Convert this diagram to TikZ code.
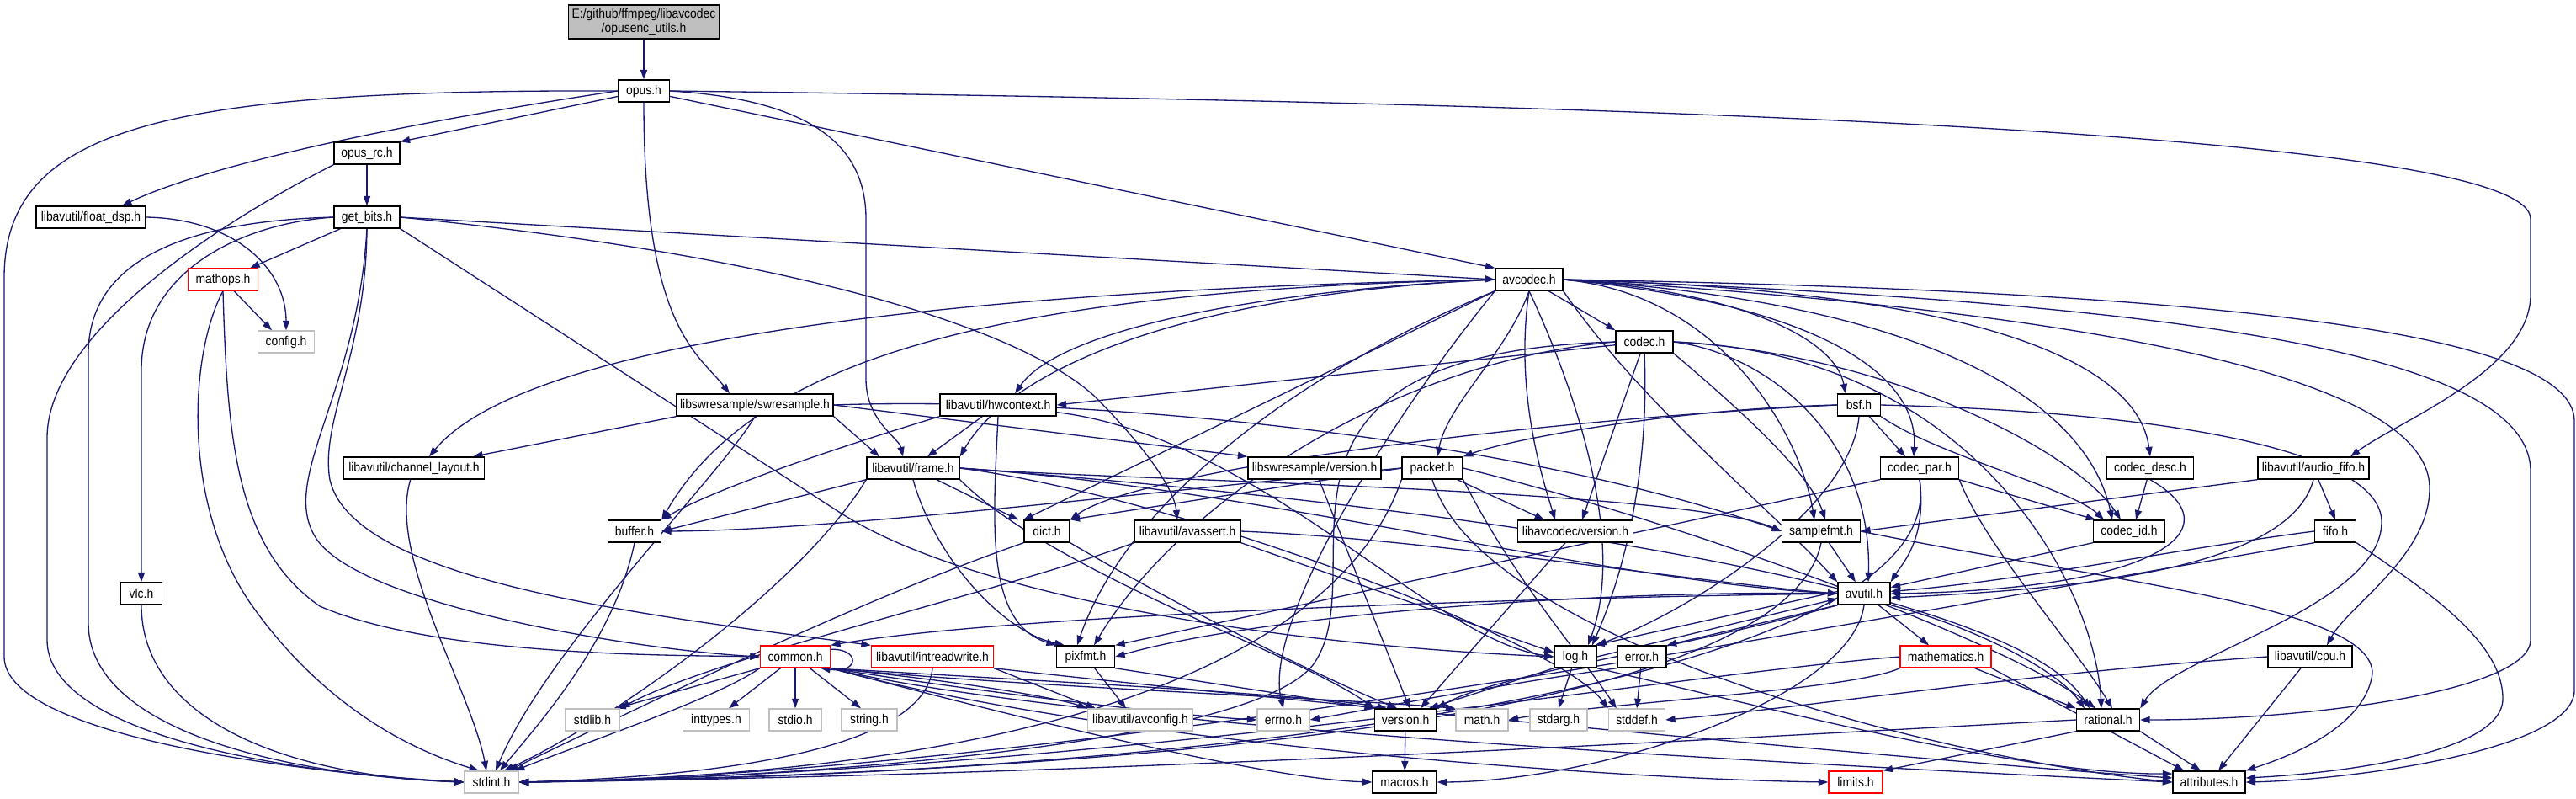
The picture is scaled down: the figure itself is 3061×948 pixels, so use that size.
\documentclass[tikz,border=0pt]{standalone}
\usepackage{fontspec}
\setmainfont{Liberation Sans}[FakeStretch=0.9]
\usetikzlibrary{arrows.meta,backgrounds}
\definecolor{edgeblue}{RGB}{25,25,112}
\definecolor{sysgray}{RGB}{191,191,191}
\tikzset{
  >={Triangle[length=6.5pt,width=4.6pt]},
  hdr/.style={draw=black,line width=0.8pt,fill=white,minimum height=0.52cm,
    inner sep=1pt,font=\fontsize{8.8}{10}\selectfont,minimum width=#1},
  hdrred/.style={hdr=#1,draw=red},
  hdrsys/.style={hdr=#1,draw=sysgray},
  dep/.style={->,draw=edgeblue,line width=0.75pt},
}
\begin{document}
\begin{tikzpicture}[x=0.02cm,y=-0.02cm]
  \useasboundingbox (0,0) rectangle (3061,948);
  % headers, one row per rank
  \node[hdr=3.58cm,fill=sysgray,minimum height=0.8cm,align=center] (root) at (765,26)
    {E:/github/ffmpeg/libavcodec\\/opusenc\_utils.h};
  \node[hdr=1.22cm] (opus) at (765,108) {opus.h};
  \node[hdr=1.56cm] (opusrc) at (436,182) {opus\_rc.h};
  \node[hdr=2.6cm] (floatdsp) at (108,258) {libavutil/float\_dsp.h};
  \node[hdr=1.56cm] (getbits) at (436,258) {get\_bits.h};
  \node[hdrred=1.66cm] (mathops) at (265,332) {mathops.h};
  \node[hdr=1.6cm] (avcodec) at (1817,332) {avcodec.h};
  \node[hdrsys=1.34cm] (config) at (340,406) {config.h};
  \node[hdr=1.36cm] (codec) at (1954,406) {codec.h};
  \node[hdr=3.72cm] (swr) at (897,481) {libswresample/swresample.h};
  \node[hdr=2.76cm] (hwctx) at (1186,481) {libavutil/hwcontext.h};
  \node[hdr=1.02cm] (bsf) at (2209,481) {bsf.h};
  \node[hdr=3.34cm] (chlayout) at (492,556) {libavutil/channel\_layout.h};
  \node[hdr=2.2cm] (frame) at (1085,556) {libavutil/frame.h};
  \node[hdr=3.16cm] (swrver) at (1562,556) {libswresample/version.h};
  \node[hdr=1.44cm] (packet) at (1702,556) {packet.h};
  \node[hdr=1.86cm] (codecpar) at (2281,556) {codec\_par.h};
  \node[hdr=2.06cm] (codecdesc) at (2555,556) {codec\_desc.h};
  \node[hdr=2.64cm] (audiofifo) at (2749,556) {libavutil/audio\_fifo.h};
  \node[hdr=1.26cm] (buffer) at (754,631) {buffer.h};
  \node[hdr=1.08cm] (dict) at (1244,631) {dict.h};
  \node[hdr=2.52cm] (avassert) at (1411,631) {libavutil/avassert.h};
  \node[hdr=2.74cm] (lavcver) at (1872,631) {libavcodec/version.h};
  \node[hdr=1.86cm] (samplefmt) at (2164,631) {samplefmt.h};
  \node[hdr=1.7cm] (codecid) at (2530,631) {codec\_id.h};
  \node[hdr=0.98cm] (fifo) at (2775,631) {fifo.h};
  \node[hdr=0.98cm] (vlc) at (168,705) {vlc.h};
  \node[hdr=1.24cm] (avutil) at (2215,705) {avutil.h};
  \node[hdrred=1.66cm] (common) at (945,780) {common.h};
  \node[hdrred=2.9cm] (intrw) at (1108,780) {libavutil/intreadwrite.h};
  \node[hdr=1.38cm] (pixfmt) at (1290,780) {pixfmt.h};
  \node[hdr=1.0cm] (log) at (1872,780) {log.h};
  \node[hdr=1.16cm] (error) at (1951,780) {error.h};
  \node[hdrred=2.16cm] (mathem) at (2312,780) {mathematics.h};
  \node[hdr=2.0cm] (cpu) at (2745,780) {libavutil/cpu.h};
  \node[hdrsys=1.3cm] (stdlib) at (704,855) {stdlib.h};
  \node[hdrsys=1.58cm] (inttypes) at (851,855) {inttypes.h};
  \node[hdrsys=1.24cm] (stdio) at (945,855) {stdio.h};
  \node[hdrsys=1.32cm] (string) at (1033,855) {string.h};
  \node[hdrsys=2.5cm] (avconfig) at (1355,855) {libavutil/avconfig.h};
  \node[hdrsys=1.24cm] (errno) at (1525,855) {errno.h};
  \node[hdr=1.46cm] (version) at (1670,855) {version.h};
  \node[hdrsys=1.24cm] (math) at (1761,855) {math.h};
  \node[hdrsys=1.36cm] (stdarg) at (1852,855) {stdarg.h};
  \node[hdrsys=1.34cm] (stddef) at (1945,855) {stddef.h};
  \node[hdr=1.5cm] (rational) at (2505,855) {rational.h};
  \node[hdrsys=1.28cm] (stdint) at (584,929) {stdint.h};
  \node[hdr=1.52cm] (macros) at (1669,929) {macros.h};
  \node[hdrred=1.28cm] (limits) at (2205,929) {limits.h};
  \node[hdr=1.72cm] (attributes) at (2625,929) {attributes.h};

  \begin{pgfonlayer}{background}
  \fill[white] (0,0) rectangle (3061,948);
  % opus.h
  \draw[dep] (root) -- (opus);
  \draw[dep] (opus.west) .. controls (200,106) and (5,150) .. (5,330) -- (5,780)
    .. controls (5,870) and (330,916) .. (stdint.west);
  \draw[dep] (opus) -- (opusrc.north east);
  \draw[dep] (opus.west) .. controls (520,140) and (260,190) .. ([xshift=0.74cm]floatdsp.north);
  \draw[dep] (opus) .. controls (765,390) and (830,420) .. ([xshift=-0.6cm]swr.north);
  \draw[dep] (opus.east) .. controls (960,118) and (1029,170) .. (1029,260) -- (1029,450)
    .. controls (1029,500) and (1068,520) .. ([xshift=-0.24cm]frame.north);
  \draw[dep] (opus) -- (avcodec.north west);
  \draw[dep] (opus.east) .. controls (2200,125) and (3007,170) .. (3007,260) -- (3007,350)
    .. controls (3007,440) and (2850,500) .. ([xshift=0.88cm]audiofifo.north);
  % opus_rc.h, float_dsp.h
  \draw[dep] (opusrc) -- (getbits);
  \draw[dep] (opusrc.south west) .. controls (250,270) and (56,400) .. (56,520) -- (56,760)
    .. controls (56,870) and (330,918) .. (stdint.west);
  \draw[dep] (floatdsp.east) .. controls (280,260) and (340,320) .. (config.north);
  % get_bits.h
  \draw[dep] (getbits) -- ([xshift=-0.2cm]mathops.north east);
  \draw[dep] (getbits.west) .. controls (240,262) and (105,300) .. (105,420) -- (105,740)
    .. controls (105,865) and (330,920) .. (stdint.west);
  \draw[dep] (getbits.west) .. controls (290,265) and (168,320) .. (168,440) -- (vlc.north);
  \draw[dep] (getbits.south) .. controls (425,470) and (330,570) .. (376,640)
    .. controls (430,720) and (760,772) .. (common.west);
  \draw[dep] (getbits.south) .. controls (435,420) and (380,500) .. (392,570)
    .. controls (420,690) and (760,730) .. (intrw.north west);
  \draw[dep] (getbits.south east) -- (1000,610) .. controls (1150,705) and (1500,765) .. (log.west);
  \draw[dep] (getbits.east) .. controls (900,300) and (1200,380) .. (1300,470)
    .. controls (1360,530) and (1395,580) .. ([xshift=-0.24cm]avassert.north);
  \draw[dep] (getbits.east) -- (avcodec.west);
  % mathops.h, vlc.h
  \draw[dep] (mathops) -- ([xshift=-0.34cm]config.north);
  \draw[dep] (mathops.south) .. controls (225,420) and (215,600) .. (300,720)
    .. controls (400,860) and (520,900) .. ([xshift=-0.3cm]stdint.north);
  \draw[dep] (mathops.south) .. controls (270,520) and (280,650) .. (380,720)
    .. controls (520,780) and (800,778) .. (common.west);
  \draw[dep] (vlc) .. controls (168,850) and (330,921) .. (stdint.west);
  % avcodec.h
  \draw[dep] (avcodec) -- (codec.north west);
  \draw[dep] (avcodec.south) .. controls (1790,420) and (1720,480) .. ([xshift=0.12cm]packet.north);
  \draw[dep] (avcodec.south) .. controls (1800,460) and (1830,560) .. ([xshift=-0.48cm]lavcver.north);
  \draw[dep] (avcodec.east) .. controls (2060,345) and (2180,400) .. ([xshift=-0.32cm]bsf.north);
  \draw[dep] (avcodec.east) .. controls (2150,360) and (2280,440) .. ([xshift=-0.14cm]codecpar.north);
  \draw[dep] (avcodec.east) .. controls (2350,345) and (2540,430) .. (codecdesc.north);
  \draw[dep] (avcodec.east) .. controls (2300,360) and (2480,480) .. ([xshift=-0.4cm]codecid.north);
  \draw[dep] (avcodec.east) .. controls (2050,350) and (2140,520) .. ([xshift=-0.16cm]samplefmt.north);
  \draw[dep] (avcodec.south east) .. controls (1950,480) and (2100,600) .. (avutil.north west);
  \draw[dep] (avcodec.east) .. controls (2600,345) and (3059,390) .. (3059,500) -- (3059,820)
    .. controls (3059,890) and (2800,926) .. (attributes.east);
  \draw[dep] (avcodec.east) .. controls (2600,360) and (3007,420) .. (3007,560) -- (3007,760)
    .. controls (3007,820) and (2750,855) .. (rational.east);
  \draw[dep] (avcodec.east) .. controls (2500,370) and (2887,450) .. (2887,580)
    .. controls (2887,660) and (2790,720) .. ([xshift=0.4cm]cpu.north);
  \draw[dep] (avcodec.south) .. controls (1880,480) and (1930,650) .. ([xshift=0.3cm]log.north);
  \draw[dep] (avcodec.south west) -- (dict.north west);
  \draw[dep] (avcodec.south west) .. controls (1500,460) and (1330,620) .. ([xshift=-0.2cm]pixfmt.north);
  \draw[dep] (avcodec.south west) .. controls (1650,500) and (1500,740) .. (errno.north);
  \draw[dep] (avcodec.west) .. controls (1500,345) and (1260,390) .. ([xshift=0.4cm]hwctx.north);
  \draw[dep] (avcodec.west) .. controls (1400,350) and (1200,440) .. (frame.north east);
  \draw[dep] (avcodec.west) .. controls (1200,345) and (900,420) .. (buffer.north east);
  \draw[dep] (avcodec.west) .. controls (1100,345) and (620,410) .. ([xshift=0.36cm]chlayout.north);
  % codec.h
  \draw[dep] (codec) -- (hwctx.east);
  \draw[dep] (codec) -- ([xshift=0.16cm]lavcver.north);
  \draw[dep] (codec.south) .. controls (1960,560) and (1930,680) .. ([xshift=0.4cm]log.north);
  \draw[dep] (codec.east) .. controls (2100,420) and (2225,520) .. ([xshift=0.1cm]avutil.north);
  \draw[dep] (codec.south east) .. controls (2060,480) and (2150,560) .. ([xshift=0.1cm]samplefmt.north);
  \draw[dep] (codec.east) .. controls (2250,420) and (2470,540) .. ([xshift=-0.2cm]codecid.north);
  \draw[dep] (codec.east) .. controls (2350,420) and (2490,700) .. ([xshift=-0.16cm]rational.north);
  \draw[dep] (codec.west) .. controls (1650,430) and (1400,600) .. ([xshift=0.2cm]pixfmt.north);
  \draw[dep] (codec.west) .. controls (1450,420) and (1640,680) .. (1560,790)
    .. controls (1480,890) and (900,926) .. (stdint.east);
  % swresample.h, hwcontext.h, bsf.h
  \draw[dep] (swr.south west) -- ([xshift=-0.28cm]chlayout.north east);
  \draw[dep] (swr.south) .. controls (860,560) and (650,770) .. ([xshift=0.1cm]stdint.north);
  \draw[dep] (swr.south east) -- ([xshift=-0.8cm]frame.north);
  \draw[dep] (swr.east) -- (swrver.north west);
  \draw[dep] (swr.east) .. controls (1300,470) and (1800,520) .. (samplefmt.west);
  \draw[dep] (hwctx) -- ([xshift=0.34cm]frame.north);
  \draw[dep] (hwctx.south west) .. controls (1000,530) and (850,580) .. (buffer.north east);
  \draw[dep] (hwctx.south) .. controls (1180,620) and (1170,740) .. (pixfmt.north west);
  \draw[dep] (hwctx) .. controls (1500,520) and (1700,760) .. (log.west);
  \draw[dep] (bsf) -- ([xshift=-0.34cm]codecpar.north);
  \draw[dep] (bsf.west) .. controls (2000,485) and (1800,520) .. (packet.north east);
  \draw[dep] (bsf.west) .. controls (1800,500) and (1350,560) .. (dict.north east);
  \draw[dep] (bsf.south east) .. controls (2300,540) and (2460,580) .. ([xshift=-0.6cm]codecid.north);
  \draw[dep] (bsf.east) .. controls (2600,490) and (2830,540) .. (2830,620)
    .. controls (2830,720) and (2580,780) .. (rational.north east);
  \draw[dep] (bsf.south) .. controls (2200,600) and (2020,720) .. (log.north east);
  % rank of frame.h and packet.h
  \draw[dep] (chlayout) .. controls (460,660) and (560,820) .. ([xshift=-0.12cm]stdint.north);
  \draw[dep] (frame) -- ([xshift=-0.68cm]dict.north);
  \draw[dep] (frame.south west) -- (buffer.east);
  \draw[dep] (frame.south west) .. controls (950,700) and (720,860) .. ([xshift=0.3cm]stdint.north);
  \draw[dep] (frame.south) .. controls (1110,660) and (1190,750) .. ([xshift=0.2cm]pixfmt.north west);
  \draw[dep] (frame.south east) .. controls (1250,680) and (1550,780) .. (version.north west);
  \draw[dep] (frame.east) .. controls (1500,580) and (1900,690) .. (avutil.west);
  \draw[dep] (frame.east) .. controls (1300,570) and (2000,580) .. (samplefmt.west);
  \draw[dep] (frame.east) .. controls (1600,590) and (2380,680) .. ([xshift=-0.44cm]rational.north);
  \draw[dep] (frame.east) .. controls (1400,590) and (1850,760) .. (stddef.north west);
  \draw[dep] (swrver) -- ([xshift=0.1cm]version.north);
  \draw[dep] (packet) -- ([xshift=-0.74cm]lavcver.north);
  \draw[dep] (packet.west) -- (dict.north east);
  \draw[dep] (packet.west) .. controls (1400,580) and (1000,630) .. (buffer.east);
  \draw[dep] (packet.south east) .. controls (1800,690) and (1880,780) .. ([xshift=0.2cm]stddef.north west);
  \draw[dep] (packet.south) .. controls (1760,760) and (2300,900) .. (attributes.west);
  \draw[dep] (packet.east) .. controls (2000,620) and (2380,760) .. ([xshift=-0.3cm]rational.north);
  \draw[dep] (packet.south west) .. controls (1600,760) and (1300,918) .. (stdint.east);
  \draw[dep] (codecpar.south west) -- (pixfmt.north east);
  \draw[dep] (codecpar.south east) -- ([xshift=-0.8cm]codecid.north);
  \draw[dep] (codecpar.south) .. controls (2290,640) and (2260,670) .. (avutil.north east);
  \draw[dep] (codecpar.south east) .. controls (2360,650) and (2460,760) .. ([xshift=0.1cm]rational.north);
  \draw[dep] (codecpar.south) .. controls (2320,800) and (1500,920) .. (stdint.east);
  \draw[dep] (codecdesc) -- ([xshift=0.16cm]codecid.north);
  \draw[dep] (codecdesc.south) .. controls (2660,630) and (2560,700) .. (avutil.east);
  \draw[dep] (audiofifo) -- (fifo.north);
  \draw[dep] (audiofifo.south west) -- (samplefmt.east);
  \draw[dep] (audiofifo.south) .. controls (2720,680) and (2450,700) .. ([yshift=-0.1cm]avutil.east);
  % rank of buffer.h and samplefmt.h
  \draw[dep] (buffer.south) .. controls (730,760) and (640,860) .. ([xshift=0.2cm]stdint.north);
  \draw[dep] (dict.south west) .. controls (1000,720) and (720,860) .. ([xshift=0.4cm]stdint.north);
  \draw[dep] (dict.south east) .. controls (1400,720) and (1560,800) .. ([xshift=-0.2cm]version.north);
  \draw[dep] (avassert.south west) .. controls (1200,700) and (850,780) .. (stdlib.north east);
  \draw[dep] (avassert.south east) -- ([yshift=0.1cm]log.west);
  \draw[dep] (avassert.east) .. controls (1700,640) and (2000,690) .. (avutil.west);
  \draw[dep] (lavcver) -- ([xshift=0.36cm]version.north);
  \draw[dep] (samplefmt) -- ([xshift=-0.2cm]avutil.north);
  \draw[dep] (samplefmt.south) .. controls (2120,860) and (1300,918) .. (stdint.east);
  \draw[dep] (samplefmt.east) .. controls (2500,690) and (2820,720) .. (2819,800)
    .. controls (2810,870) and (2700,905) .. (attributes.north east);
  \draw[dep] (codecid.south west) -- ([yshift=0.15cm]avutil.east);
  \draw[dep] (fifo.west) .. controls (2600,650) and (2400,690) .. ([yshift=0.05cm]avutil.east);
  \draw[dep] (fifo.south west) .. controls (2300,720) and (1300,918) .. (stdint.east);
  \draw[dep] (fifo.south east) .. controls (2880,700) and (2974,760) .. (2974,830)
    .. controls (2974,900) and (2750,920) .. ([yshift=0.1cm]attributes.east);
  % avutil.h
  \draw[dep] (avutil) -- ([xshift=-0.4cm]mathem.north);
  \draw[dep] (avutil.south west) -- (error.north east);
  \draw[dep] (avutil.south east) .. controls (2330,740) and (2440,790) .. ([xshift=-0.56cm]rational.north);
  \draw[dep] ([yshift=0.05cm]avutil.west) -- ([xshift=-0.05cm]log.north east);
  \draw[dep] (log.east) -- ([yshift=-0.12cm]avutil.west);
  \draw[dep] (avutil.west) .. controls (1900,700) and (1500,730) .. (pixfmt.east);
  \draw[dep] (avutil.west) .. controls (1800,710) and (1200,730) .. (common.north east);
  \draw[dep] (avutil.south west) .. controls (2000,770) and (1780,800) .. (version.north east);
  \draw[dep] (avutil.south) .. controls (2200,830) and (1900,928) .. (macros.east);
  % common.h
  \draw[dep] (common) -- (stdio);
  \draw[dep] (common) -- ([xshift=0.3cm]inttypes.north);
  \draw[dep] (common) -- ([xshift=-0.2cm]string.north);
  \draw[dep] (common.south west) -- ([xshift=-0.1cm]stdlib.north east);
  \draw[dep] (common.south west) .. controls (850,830) and (700,880) .. ([xshift=0.56cm]stdint.north);
  \draw[dep] (common.south east) .. controls (1150,810) and (1260,830) .. (avconfig.north west);
  \draw[dep] (common.south east) .. controls (1150,820) and (1400,850) .. (errno.west);
  \draw[dep] (common.south east) .. controls (1250,810) and (1560,825) .. ([xshift=0.3cm]version.north west);
  \draw[dep] (common.south east) .. controls (1200,850) and (1500,925) .. (macros.west);
  \draw[dep] (common.south east) .. controls (1200,815) and (1600,830) .. (math.north west);
  \draw[dep] (common.south east) .. controls (1300,880) and (1900,925) .. (limits.west);
  \draw[dep] (common.south east) .. controls (1300,870) and (2300,915) .. (attributes.west);
  \draw[dep] ([yshift=-0.1cm]common.north east) .. controls (1022,770) and (1022,800)
    .. ([xshift=-0.24cm]common.south east);
  % intreadwrite.h, pixfmt.h, log.h, error.h
  \draw[dep] (intrw.south) .. controls (1100,880) and (900,921) .. (stdint.east);
  \draw[dep] (intrw.south east) -- ([xshift=0.2cm]avconfig.north west);
  \draw[dep] (intrw.south east) .. controls (1500,830) and (2300,905) .. ([yshift=0.1cm]attributes.west);
  \draw[dep] (pixfmt) -- ([xshift=-0.34cm]avconfig.north);
  \draw[dep] (pixfmt.south east) -- (version.north west);
  \draw[dep] (log) -- (stdarg.north);
  \draw[dep] (log.south west) -- ([xshift=0.56cm]version.north);
  \draw[dep] (log.south east) .. controls (2100,840) and (2400,920) .. ([yshift=0.2cm]attributes.west);
  \draw[dep] (error) -- (stddef.north);
  \draw[dep] (error.south west) .. controls (1800,810) and (1640,840) .. (errno.east);
  % mathematics.h, cpu.h, version.h, rational.h
  \draw[dep] (mathem) -- (rational.north west);
  \draw[dep] (mathem.south east) -- ([xshift=-0.6cm]attributes.north);
  \draw[dep] (mathem.south west) .. controls (2200,820) and (1900,835) .. (math.east);
  \draw[dep] (mathem.west) .. controls (2000,800) and (1300,918) .. (stdint.east);
  \draw[dep] (cpu.west) .. controls (2400,800) and (2150,840) .. (stddef.east);
  \draw[dep] (cpu) -- ([xshift=0.22cm]attributes.north);
  \draw[dep] (version) -- (macros);
  \draw[dep] (rational.south west) -- (limits.north east);
  \draw[dep] (rational.south east) -- ([xshift=-0.2cm]attributes.north);
  \draw[dep] (rational.west) .. controls (2000,880) and (1300,921) .. (stdint.east);
  \end{pgfonlayer}
\end{tikzpicture}
\end{document}
